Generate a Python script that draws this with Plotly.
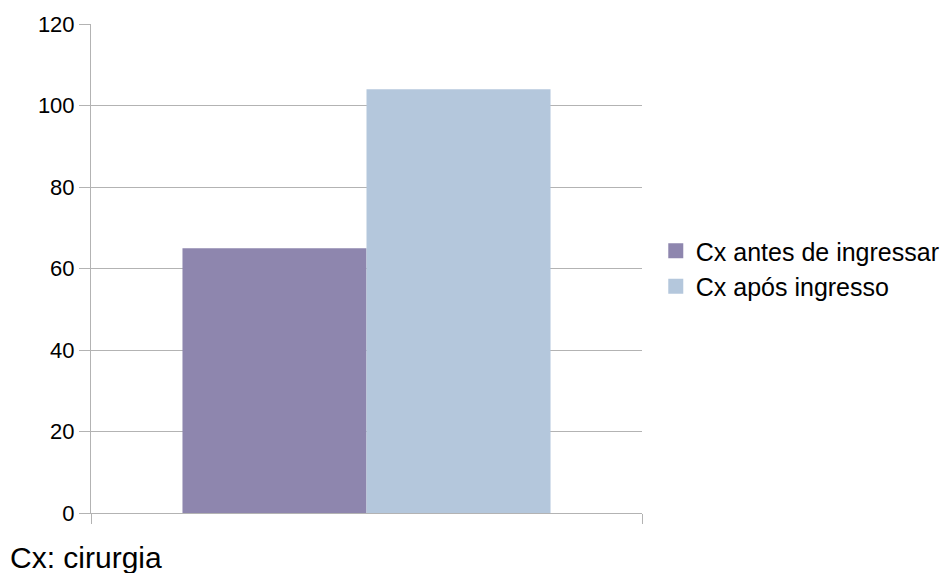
import plotly.graph_objects as go

categories = ["Cx"]
series_names = ["Cx antes de ingressar", "Cx após ingresso"]
series_values = [[65], [104]]
colors = ["#8e86ae", "#b4c7dc"]
y_ticks = [0, 20, 40, 60, 80, 100, 120]

FONT = "Liberation Sans, Arial, sans-serif"
GRID = "#b3b3b3"

fig = go.Figure()
for name, vals, col in zip(series_names, series_values, colors):
    fig.add_trace(go.Bar(x=categories, y=vals, name=name, marker_color=col,
                         marker_line_width=0, showlegend=False))
for i, (name, col) in enumerate(zip(series_names, colors)):
    fig.add_trace(go.Scatter(x=[None], y=[None], mode="markers", name=name,
                             legendgroup=f"g{i}",
                             marker=dict(symbol="square", size=15, color=col)))

fig.update_layout(
    width=949, height=573,
    margin=dict(l=91, r=307, t=24, b=60, autoexpand=False),
    paper_bgcolor="white", plot_bgcolor="white",
    barmode="group", bargap=0.332, bargroupgap=0,
    font=dict(family=FONT, color="black", size=22),
    legend=dict(x=1.025, xanchor="left", y=0.5, yanchor="middle",
                font=dict(size=25, family=FONT), tracegroupgap=0,
                itemsizing="trace", bgcolor="rgba(0,0,0,0)"),
    xaxis=dict(type="category", tickson="boundaries", ticks="outside", ticklen=10,
               tickcolor=GRID, showgrid=True, gridcolor=GRID, gridwidth=1,
               showline=True, linecolor=GRID, showticklabels=False),
    yaxis=dict(range=[0, 120], tickvals=y_ticks, ticks="outside", ticklen=11,
               tickcolor=GRID, showgrid=True, gridcolor=GRID, gridwidth=1,
               showline=True, linecolor=GRID, zeroline=False,
               tickfont=dict(size=22, family=FONT, color="black")),
    annotations=[dict(text="Cx: cirurgia", xref="paper", yref="paper",
                      x=-91/551, y=-44/489, xanchor="left", yanchor="middle",
                      showarrow=False, xshift=8,
                      font=dict(size=30, family=FONT, color="black"))],
)

fig.write_html("out.html")
